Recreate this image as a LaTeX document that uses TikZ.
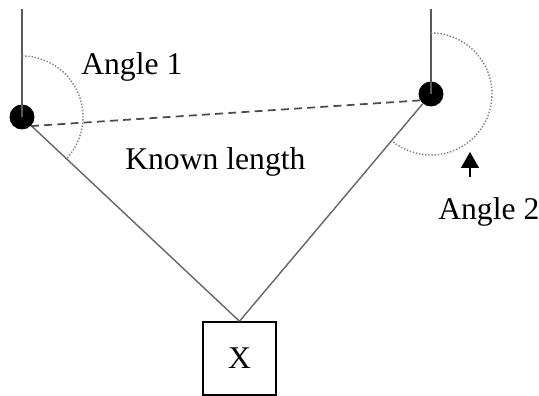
\documentclass[tikz,border=0pt]{standalone}
\usepackage{fontspec}
\setmainfont{Liberation Serif}
\usetikzlibrary{arrows.meta}
\begin{document}
\begin{tikzpicture}[x=0.02cm,y=0.02cm,
		pivot/.style={circle,fill=black,inner sep=0pt,minimum size=0.5cm},
		weight/.style={draw=black,line width=0.85pt,minimum size=1.46cm,inner sep=0pt},
		hanger/.style={draw=black!65,line width=1.1pt},
		rod/.style={draw=black!60,line width=0.8pt},
		baseline/.style={draw=black!70,dashed,line width=1pt,dash pattern=on 4.5pt off 3pt},
		anglearc/.style={draw=black!50,densely dotted,line width=0.8pt},
		lbl/.style={inner sep=0pt,anchor=base west,font=\fontsize{18}{20}\selectfont}]
		\useasboundingbox (0,0) rectangle (539,396);

		\coordinate (topL) at (22,387);
		\coordinate (topR) at (431,387);
		\node[pivot] (pivL) at (22,279) {};
		\node[pivot] (pivR) at (431,302) {};
		\node[weight,font=\fontsize{18}{20}\selectfont] (mass) at (239.5,37.5) {X};

		\draw[hanger] (topL) -- (pivL.center);
		\draw[hanger] (topR) -- (pivR.center);
		\draw[rod] (pivL) -- (mass.north);
		\draw[rod] (pivR) -- (mass.north);
		\draw[baseline] (pivL.-45) -- (pivR.-150);

		% angles measured from the vertical
		\draw[anglearc] (pivL.center) ++(90:61) arc[start angle=90,end angle=-43,radius=61];
		\draw[anglearc] (pivR.center) ++(90:61) arc[start angle=90,end angle=-130,radius=61];

		\node[lbl] (angOne) at (81,321) {Angle 1};
		\node[lbl] (known) at (125,226) {Known length};
		\node[lbl] (angTwo) at (438,176) {Angle 2};

		\coordinate (arrS) at (470,219);
		\coordinate (arrT) at (470,244);
		\draw[-{Triangle[width=10pt,length=9pt]},line width=1.3pt] (arrS) -- (arrT);
\end{tikzpicture}
\end{document}
